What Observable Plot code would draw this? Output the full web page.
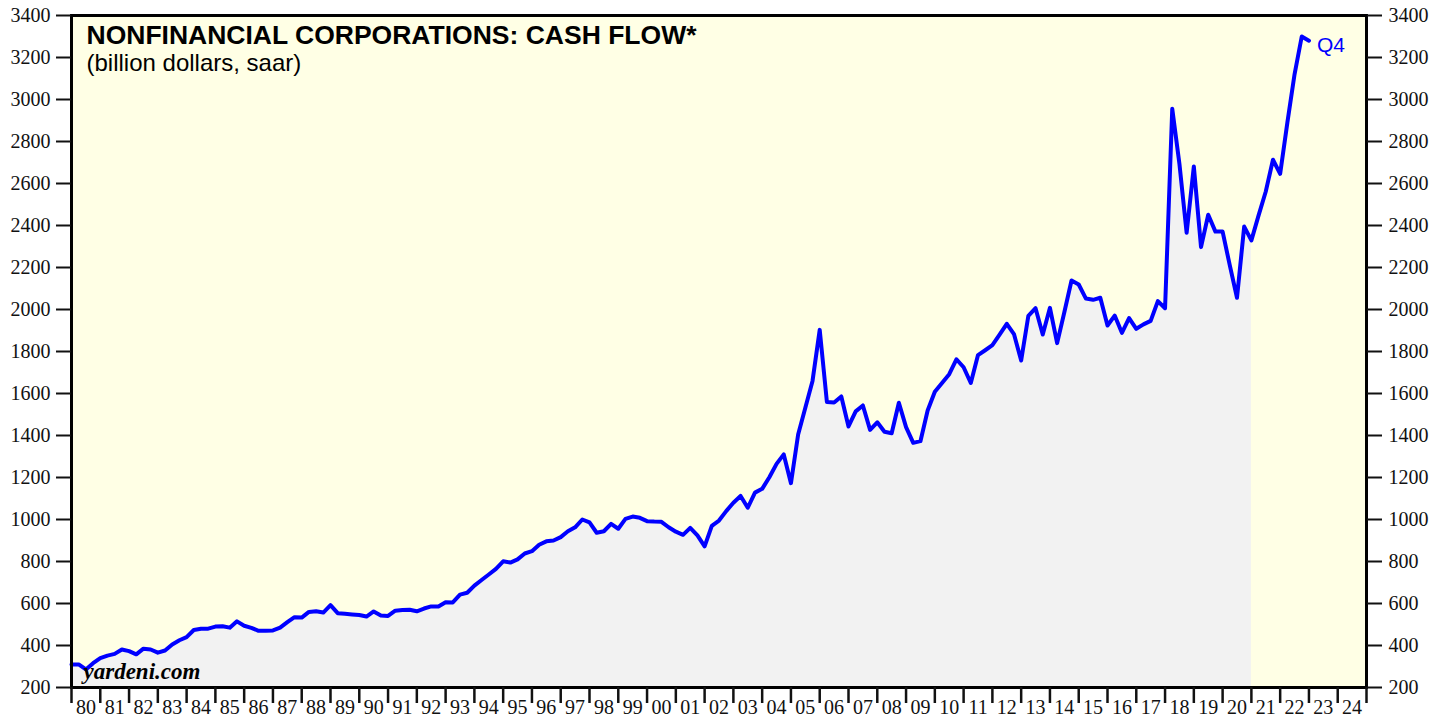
<!DOCTYPE html>
<html>
<head>
<meta charset="utf-8">
<script src="https://cdn.jsdelivr.net/npm/d3@7"></script>
<script src="https://cdn.jsdelivr.net/npm/@observablehq/plot@0.6"></script>
<style>
  body { margin: 0; background: #ffffff; }
</style>
</head>
<body>
<div id="chart"></div>
<script>
// Quarterly cash flow, billion dollars, saar. Each value is plotted at the end of its quarter,
// the first one (1979 Q4) sits at the start of 1980, the last one (2022 Q4) at the start of 2023.
const firstPoint = 1980.0;
const quarterStep = 0.25;
const cashFlow = [
  310, 310, 286, 316,      // 1980
  340, 352, 360, 381,      // 1981
  373, 358, 385, 381,      // 1982
  366, 376, 405, 425,      // 1983
  440, 474, 480, 480,      // 1984
  490, 492, 485, 515,      // 1985
  494, 484, 470, 470,      // 1986
  472, 485, 511, 535,      // 1987
  533, 560, 563, 557,      // 1988
  592, 554, 551, 548,      // 1989
  545, 538, 562, 543,      // 1990
  541, 566, 569, 570,      // 1991
  563, 576, 586, 586,      // 1992
  606, 605, 642, 651,      // 1993
  685, 712, 738, 765,      // 1994
  801, 795, 810, 838,      // 1995
  849, 880, 896, 900,      // 1996
  916, 944, 963, 1000,     // 1997
  986, 937, 944, 979,      // 1998
  956, 1003, 1014, 1008,   // 1999
  992, 990, 989, 963,      // 2000
  942, 927, 960, 924,      // 2001
  872, 970, 995, 1040,     // 2002
  1080, 1112, 1056, 1128,  // 2003
  1146, 1201, 1265, 1310,  // 2004
  1173, 1405, 1532, 1660,  // 2005
  1903, 1559, 1557, 1586,  // 2006
  1443, 1515, 1543, 1427,  // 2007
  1463, 1418, 1411, 1556,  // 2008
  1440, 1365, 1373, 1519,  // 2009
  1608, 1650, 1692, 1763,  // 2010
  1725, 1650, 1783, 1806,  // 2011
  1830, 1880, 1932, 1883,  // 2012
  1757, 1970, 2006, 1881,  // 2013
  2008, 1840, 1987, 2138,  // 2014
  2119, 2052, 2046, 2056,  // 2015
  1924, 1971, 1889, 1959,  // 2016
  1908, 1929, 1946, 2040,  // 2017
  2006, 2956, 2693, 2365,  // 2018
  2681, 2297, 2451, 2371,  // 2019
  2371, 2210, 2056, 2395,  // 2020
  2329, 2448, 2562, 2713,  // 2021
  2646, 2890, 3120, 3300,  // 2022
  3280                      // 2023 start (2022 Q4)
];
const shadeEnd = 2021.0;   // grey fill under the line stops here
const yTicks = [200, 400, 600, 800, 1000, 1200, 1400, 1600, 1800, 2000, 2200, 2400, 2600, 2800, 3000, 3200, 3400];
const tickYears = d3.range(1980, 2026);
const labelYears = d3.range(1980, 2025);
const titleText = "NONFINANCIAL CORPORATIONS: CASH FLOW*";
const subtitleText = "(billion dollars, saar)";
const lastLabel = "Q4";
const sourceText = "yardeni.com";

const data = cashFlow.map((v, i) => ({t: firstPoint + i * quarterStep, v}));
const shaded = data.filter(d => d.t <= shadeEnd + 1e-9);
const last = data[data.length - 1];

const chart = Plot.plot({
  width: 1448,
  height: 719,
  marginLeft: 71,
  marginRight: 82,
  marginTop: 15,
  marginBottom: 32,
  x: {domain: [1980, 2025], label: null},
  y: {domain: [200, 3400], label: null},
  style: {fontFamily: "'Liberation Serif', 'Times New Roman', serif", fontSize: "20px", color: "#111", background: "#ffffff"},
  marks: [
    Plot.frame({fill: "#ffffe5", stroke: null}),
    Plot.areaY(shaded, {x: "t", y1: 200, y2: "v", fill: "#f2f2f2"}),
    Plot.lineY(data, {x: "t", y: "v", stroke: "#0000ff", strokeWidth: 4}),
    Plot.frame({stroke: "#000", strokeWidth: 3}),
    Plot.axisY({anchor: "left", ticks: yTicks, tickSize: 15, tickPadding: 6, tickFormat: d => String(d), strokeWidth: 2, fontSize: 20, label: null}),
    Plot.axisY({anchor: "right", ticks: yTicks, tickSize: 15, tickPadding: 7, tickFormat: d => String(d), strokeWidth: 2, fontSize: 20, label: null}),
    Plot.axisX({ticks: tickYears, tickSize: 16, tickFormat: () => "", strokeWidth: 2.5, label: null}),
    Plot.axisX({ticks: labelYears.map(y => y + 0.5), tickSize: 0, tickPadding: 12, tickFormat: d => String(Math.floor(d) % 100).padStart(2, "0"), fontSize: 20, label: null}),
    Plot.text([titleText], {frameAnchor: "top-left", dx: 15, dy: 10, text: d => d, textAnchor: "start", lineAnchor: "top", fontFamily: "'Liberation Sans', Arial, sans-serif", fontWeight: "bold", fontSize: 26.5, fill: "#000"}),
    Plot.text([subtitleText], {frameAnchor: "top-left", dx: 15, dy: 38, text: d => d, textAnchor: "start", lineAnchor: "top", fontFamily: "'Liberation Sans', Arial, sans-serif", fontSize: 24, fill: "#000"}),
    Plot.text([sourceText], {frameAnchor: "bottom-left", dx: 12, dy: -25, text: d => d, textAnchor: "start", lineAnchor: "top", fontFamily: "'Liberation Serif', 'Times New Roman', serif", fontWeight: "bold", fontStyle: "italic", fontSize: 23, fill: "#000"}),
    Plot.text([last], {x: "t", y: "v", text: () => lastLabel, dx: 8, dy: 5, textAnchor: "start", lineAnchor: "middle", fontFamily: "'Liberation Sans', Arial, sans-serif", fontSize: 21, fill: "#0000ff"})
  ]
});
document.getElementById("chart").appendChild(chart);
</script>
</body>
</html>
